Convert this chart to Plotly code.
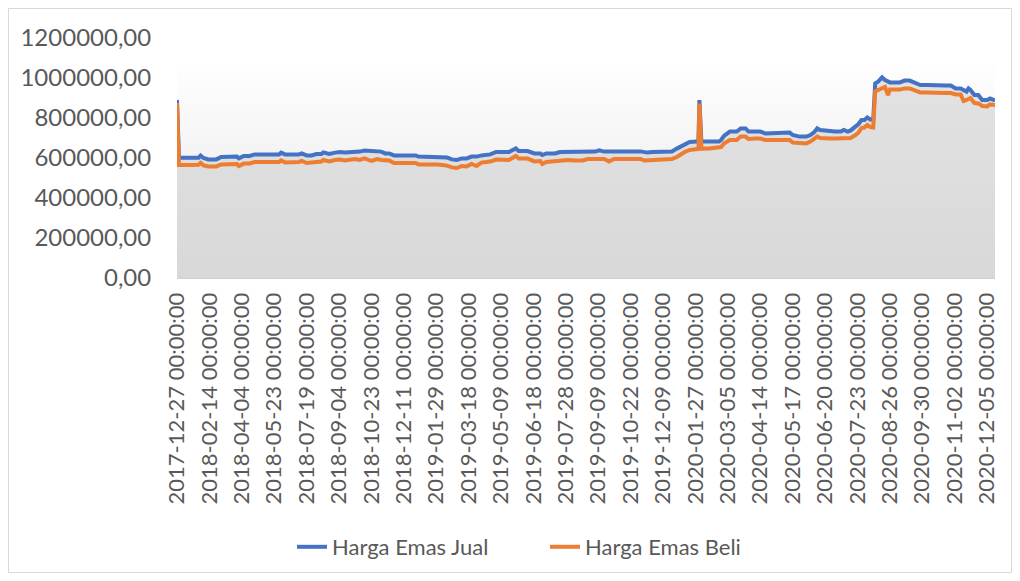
import plotly.graph_objects as go

# ---- data ----
tick_dates = [
    "2017-12-27", "2018-02-14", "2018-04-04", "2018-05-23", "2018-07-19",
    "2018-09-04", "2018-10-23", "2018-12-11", "2019-01-29", "2019-03-18",
    "2019-05-09", "2019-06-18", "2019-07-28", "2019-09-09", "2019-10-22",
    "2019-12-09", "2020-01-27", "2020-03-05", "2020-04-14", "2020-05-17",
    "2020-06-20", "2020-07-23", "2020-08-26", "2020-09-30", "2020-11-02",
    "2020-12-05",
]
LABEL_STEP = 33  # observations between consecutive category labels

# observation number (category index) of each sampled point
obs = [0, 2, 12, 22, 24, 27, 32, 40, 45, 54,
       61, 63, 68, 74, 79, 94, 104, 106, 110, 124,
       127, 132, 137, 142, 147, 149, 155, 161, 166, 171,
       176, 181, 186, 191, 198, 204, 208, 212, 216, 221,
       231, 243, 246, 257, 265, 270, 275, 280, 285, 290,
       295, 300, 305, 310, 315, 319, 325, 333, 338, 345,
       348, 357, 364, 370, 372, 376, 385, 390, 398, 405,
       413, 418, 426, 430, 435, 440, 445, 455, 466, 472,
       476, 479, 484, 489, 494, 504, 509, 512, 517, 522,
       529, 531, 532, 534, 542, 552, 554, 557, 563, 570,
       574, 579, 582, 589, 594, 599, 614, 619, 624, 627,
       634, 641, 645, 649, 652, 655, 660, 665, 670, 676,
       679, 683, 686, 691, 694, 697, 700, 703, 706, 709,
       711, 714, 718, 721, 724, 726, 736, 741, 746, 751,
       757, 764, 772, 783, 788, 793, 798, 801, 804, 806,
       808, 812, 816, 820, 825, 828, 833]

# Harga Emas Jual (thousand rupiah)
jual_k = [890, 601, 601, 601, 612, 600, 593, 593, 605, 607,
          607, 598, 610, 610, 618, 618, 618, 627, 618, 618,
          623, 613, 613, 620, 620, 628, 620, 627, 630, 627,
          627, 632, 632, 637, 637, 632, 632, 623, 623, 613,
          613, 613, 607, 607, 607, 602, 602, 593, 590, 598,
          598, 607, 607, 613, 613, 618, 630, 630, 630, 648,
          635, 635, 623, 623, 615, 623, 623, 630, 630, 627,
          627, 632, 632, 638, 632, 632, 633, 633, 633, 633,
          627, 627, 630, 630, 633, 633, 647, 655, 670, 680,
          682, 682, 890, 682, 682, 682, 690, 710, 732, 732,
          748, 748, 732, 732, 732, 723, 723, 727, 727, 715,
          707, 707, 715, 730, 748, 740, 735, 735, 732, 732,
          740, 732, 738, 755, 770, 790, 790, 803, 793, 793,
          973, 982, 1003, 990, 985, 978, 978, 987, 987, 977,
          965, 965, 962, 962, 962, 948, 948, 940, 932, 948,
          940, 915, 915, 890, 890, 898, 888]

# Harga Emas Beli (thousand rupiah)
beli_k = [875, 565, 565, 566, 575, 563, 558, 558, 568, 570,
          570, 560, 572, 573, 580, 580, 580, 588, 578, 580,
          585, 575, 577, 583, 582, 590, 583, 590, 592, 588,
          590, 595, 590, 598, 585, 595, 590, 588, 588, 575,
          575, 575, 568, 570, 568, 565, 562, 553, 550, 560,
          558, 570, 560, 577, 578, 582, 592, 592, 590, 610,
          597, 597, 583, 585, 570, 580, 585, 590, 590, 588,
          588, 595, 597, 598, 595, 583, 595, 595, 595, 595,
          587, 588, 593, 593, 595, 595, 605, 615, 630, 640,
          645, 645, 872, 647, 648, 650, 655, 672, 690, 690,
          707, 707, 695, 697, 697, 690, 690, 690, 690, 677,
          673, 673, 682, 695, 707, 700, 697, 697, 697, 697,
          700, 697, 700, 715, 727, 750, 752, 765, 755, 753,
          933, 940, 948, 955, 915, 942, 942, 948, 948, 938,
          928, 928, 925, 925, 925, 918, 918, 885, 890, 895,
          900, 875, 873, 860, 858, 868, 865]

assert len(obs) == len(jual_k) == len(beli_k), (len(obs), len(jual_k), len(beli_k))

jual = [v * 1000 for v in jual_k]
beli = [v * 1000 for v in beli_k]
tick_text = [d + " 00:00:00" for d in tick_dates]
tick_vals = [i * LABEL_STEP for i in range(len(tick_dates))]

# ---- style ----
BAND_TOP = 1065000
FONT = "Lato, 'Open Sans', 'DejaVu Sans', sans-serif"
TXT = "#595959"
BLUE = "#4472C4"
ORANGE = "#ED7D31"

# figure sits inside the page's 8px body margin
W, H = 1004, 565
L, R, T, B = 169, 17, 30, 295
PW, PH = W - L - R, H - T - B

fig = go.Figure()
# light gradient band of the plot area
fig.add_trace(go.Scatter(
    x=[obs[0], obs[-1]], y=[BAND_TOP, BAND_TOP], mode="lines",
    line=dict(width=0, color="rgba(0,0,0,0)"), fill="tozeroy",
    fillgradient=dict(type="vertical", start=0, stop=BAND_TOP,
                      colorscale=[[0, "#e6e6e6"], [1, "#fefefe"]]),
    hoverinfo="skip", showlegend=False))
# grey area under the series
fig.add_trace(go.Scatter(
    x=obs, y=jual, mode="lines",
    line=dict(width=0, color="rgba(0,0,0,0)"), fill="tozeroy",
    fillgradient=dict(type="vertical", start=0, stop=BAND_TOP,
                      colorscale=[[0, "#d8d8d8"], [1, "#e3e3e3"]]),
    hoverinfo="skip", showlegend=False))
fig.add_trace(go.Scatter(x=obs, y=jual, mode="lines", name="Harga Emas Jual",
                         line=dict(color=BLUE, width=4)))
fig.add_trace(go.Scatter(x=obs, y=beli, mode="lines", name="Harga Emas Beli",
                         line=dict(color=ORANGE, width=4)))

fig.update_layout(
    width=W, height=H,
    margin=dict(l=L, r=R, t=T, b=B, pad=0),
    paper_bgcolor="white", plot_bgcolor="white",
    separators=",.",
    font=dict(family=FONT, color=TXT, size=22),
    showlegend=True,
    legend=dict(orientation="h", xref="container", yref="container",
                x=284 / W, y=1 - 539 / H, xanchor="left", yanchor="middle",
                font=dict(family=FONT, size=22, color=TXT),
                bgcolor="rgba(0,0,0,0)", itemwidth=30,
                entrywidth=208, entrywidthmode="pixels"),
    xaxis=dict(range=[obs[0], obs[-1]], tickmode="array", tickvals=tick_vals,
               ticktext=tick_text, tickangle=-90, showgrid=False, zeroline=False,
               showline=True, linecolor="#d0d0d0", linewidth=1,
               ticks="outside", ticklen=5, tickcolor="rgba(0,0,0,0)",
               tickfont=dict(family=FONT, size=22, color=TXT)),
    yaxis=dict(range=[0, 1200000], dtick=200000, tick0=0, tickformat=".2f",
               showgrid=False, zeroline=False, showline=False,
               ticks="outside", ticklen=20, tickcolor="rgba(0,0,0,0)",
               tickfont=dict(family=FONT, size=24, color=TXT)),
    shapes=[dict(type="rect", xref="paper", yref="paper",
                 x0=(0.5 - L) / PW, x1=(W - 0.5 - L) / PW,
                 y0=-(B - 0.5) / PH, y1=1 + (T - 0.5) / PH,
                 line=dict(color="#d9d9d9", width=1), layer="below")],
)

fig.write_html("out.html")
